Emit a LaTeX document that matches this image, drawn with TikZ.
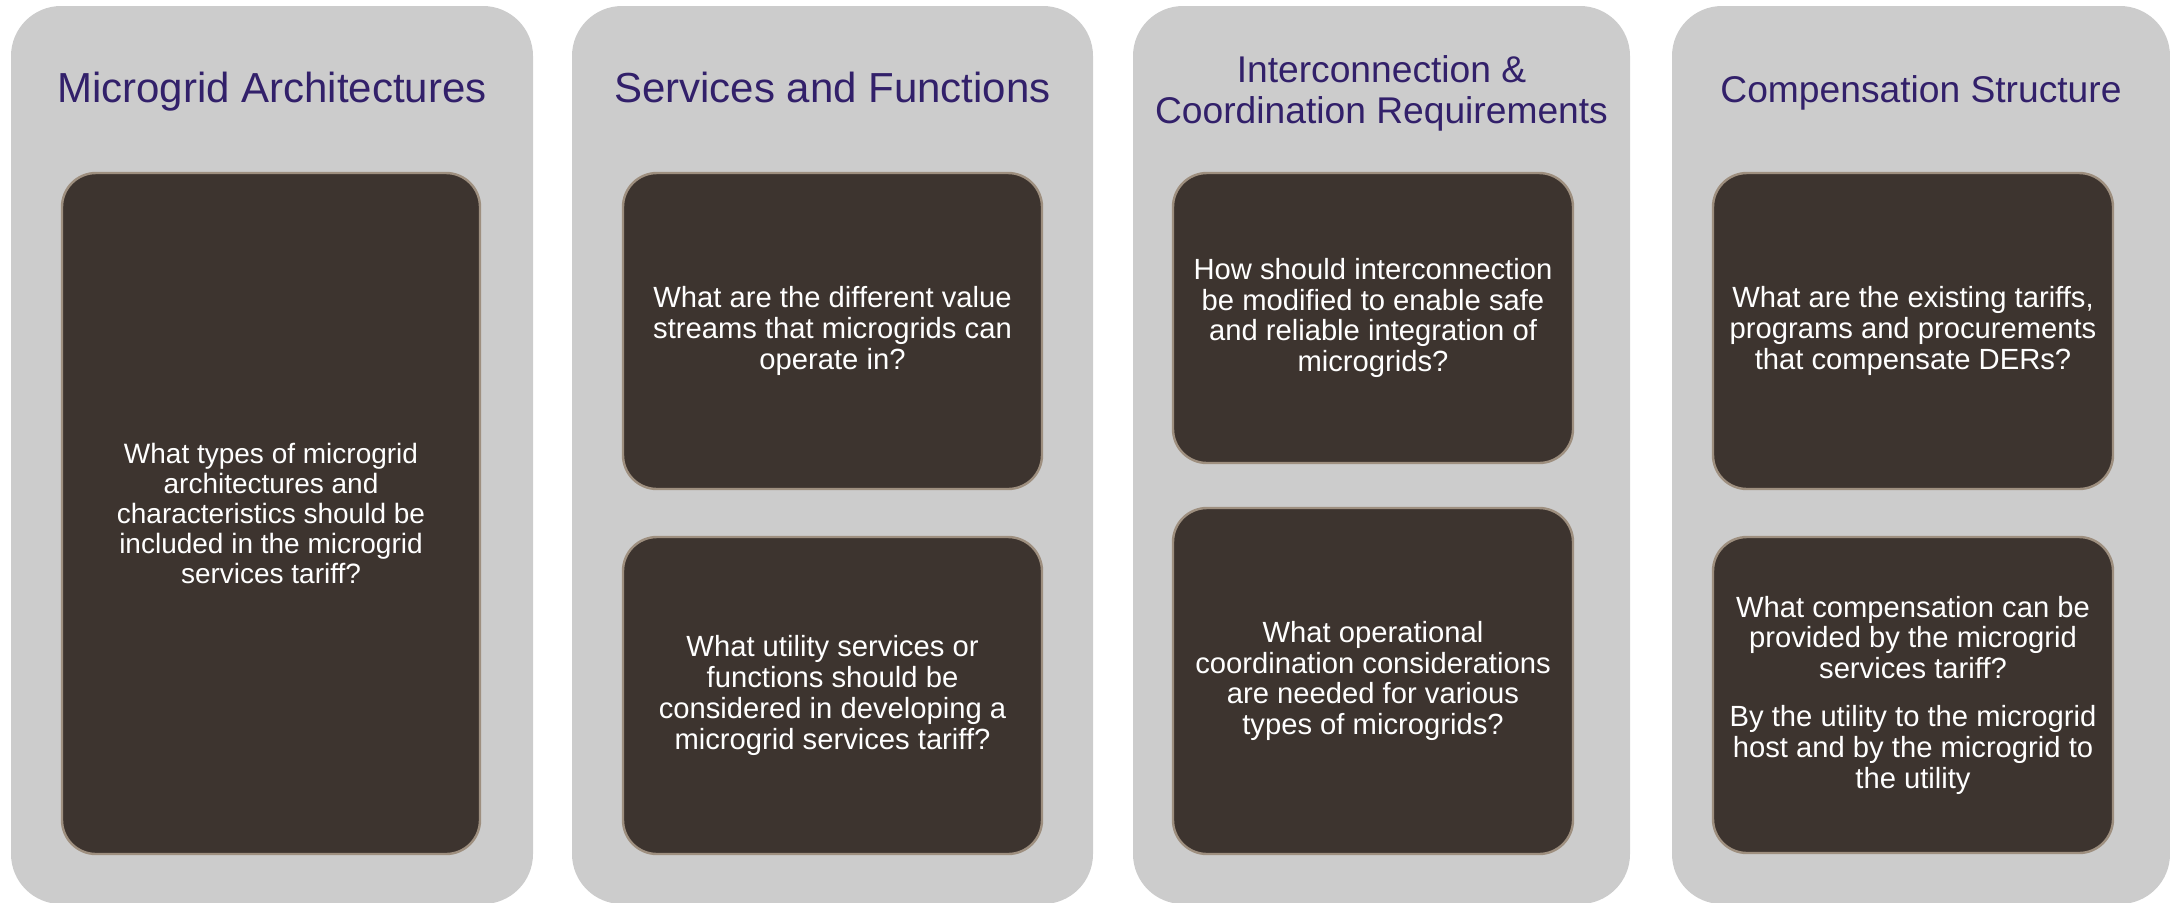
\documentclass[tikz,border=0pt]{standalone}
\usepackage{fontspec}
\setmainfont{Liberation Sans}
\usetikzlibrary{positioning}
\definecolor{panelgray}{RGB}{204, 204, 204}
\definecolor{boxbrown}{RGB}{61, 52, 47}
\definecolor{rimbrown}{RGB}{158, 143, 127}
\definecolor{titlepurple}{RGB}{50, 32, 106}
\tikzset{
  backpanel/.style={fill=panelgray, rounded corners=25pt, inner sep=0pt},
  heading/.style={text=titlepurple, align=center, inner sep=0pt, font=\fontsize{21}{23}\selectfont},
  question/.style={draw=rimbrown, line width=1.2pt, fill=boxbrown, rounded corners=17pt,
    text=white, align=center, inner sep=0pt, font=\fontsize{14.6}{15.4}\selectfont}
}
\newcommand{\backpanel}[3]{
  \node[backpanel, minimum width=#3, minimum height=449pt] (#1) at (#2, 455) {};
}
\newcommand{\question}[7][]{
  \node[question, minimum width=#5, minimum height=#6, #1] (#2) at (#3, #4) {#7};
}

\begin{document}
\begin{tikzpicture}[x=0.5pt, y=-0.5pt]
      \useasboundingbox (0, 0) rectangle (2170, 902);

      \backpanel{archPanel}{272}{261pt}
      \backpanel{servPanel}{832.5}{260.5pt}
      \backpanel{interPanel}{1381.5}{248.5pt}
      \backpanel{compPanel}{1921}{249pt}

      \node[heading, anchor=base] (archHead) at (272, 102) {Microgrid Architectures};
      \node[heading, anchor=base] (servHead) at (832.5, 102) {Services and Functions};
      \node[heading, anchor=north, font=\fontsize{18.6}{20.5}\selectfont] (interHead) at (1381.5, 55)
        {Interconnection \&\\Coordination Requirements};
      \node[heading, anchor=base, font=\fontsize{18.6}{20.5}\selectfont] (compHead) at (1921, 102) {Compensation Structure};

      \question[font=\fontsize{14}{15}\selectfont]{archQ}{271}{513.5}{209pt}{340.5pt}
        {What types of microgrid\\architectures and\\characteristics should be\\included in the microgrid\\services tariff?}

      \question{servQa}{832.5}{331}{209.5pt}{158pt}
        {What are the different value\\streams that microgrids can\\operate in?}
      \question{servQb}{832.5}{695.5}{209.5pt}{158.5pt}
        {What utility services or\\functions should be\\considered in developing a\\microgrid services tariff?}

      \question{interQa}{1373}{318}{200pt}{145pt}
        {How should interconnection\\be modified to enable safe\\and reliable integration of\\microgrids?}
      \question{interQb}{1373}{681}{200pt}{173pt}
        {What operational\\coordination considerations\\are needed for various\\types of microgrids?}

      \question{compQa}{1913}{331}{200pt}{158pt}
        {What are the existing tariffs,\\programs and procurements\\that compensate DERs?}
      \question{compQb}{1913}{695}{200pt}{158pt}
        {What compensation can be\\provided by the microgrid\\services tariff?\\[8.5pt]By the utility to the microgrid\\host and by the microgrid to\\the utility}

      % \draw[help lines] (0, 0) grid[step=100] (2170, 902);
    \end{tikzpicture}
\end{document}
